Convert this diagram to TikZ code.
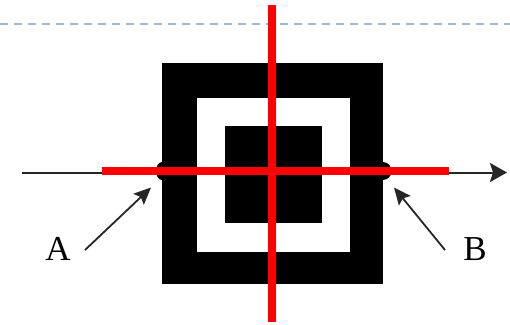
\documentclass[tikz,border=0pt]{standalone}
\usepackage{fontspec}
\setmainfont{Liberation Serif}
\usetikzlibrary{arrows.meta}
\definecolor{dashgray}{HTML}{A3B8CC}
\begin{document}
\begin{tikzpicture}[x=1pt,y=-1pt,
  redline/.style={draw=red,line width=7.5pt},
  pointer/.style={draw=black!85,line width=1.8pt,-{Stealth[length=17pt,width=15pt,inset=3pt]}},
  lbl/.style={font=\fontsize{35}{40}\selectfont,inner sep=0pt}]
\useasboundingbox (0,0) rectangle (510,324);
% dashed top line
\draw[dashgray,line width=2.5pt,dash pattern=on 8pt off 6pt] (0,24) -- (510,24);
% target squares
\fill[black] (161.7,62.7) rectangle (382.7,284.3);
\fill[white] (196.7,98.3) rectangle (350,251.7);
\fill[black] (225,126) rectangle (321.7,223.3);
% small bulges at the edges
\fill[black] (162,171) ellipse[x radius=6,y radius=9];
\fill[black] (382.7,171) ellipse[x radius=9,y radius=9];
% axis
\coordinate (axs) at (21.7,172.5);
\coordinate (axe) at (507,172.5);
\draw[black!85,line width=2pt,-{Stealth[length=17pt,width=19pt,inset=3pt]}] (axs) -- (axe);
% red cross
\coordinate (hl) at (101.7,171);
\coordinate (hr) at (449,171);
\coordinate (vt) at (272,5);
\coordinate (vb) at (272,322);
\draw[redline] (hl) -- (hr);
\draw[redline] (vt) -- (vb);
% labels and pointers
\node[lbl] (A) at (58,249) {A};
\node[lbl] (B) at (475,249) {B};
\coordinate (As) at (85,250);
\coordinate (At) at (151,187.5);
\coordinate (Bs) at (445,250);
\coordinate (Bt) at (394,187.5);
\draw[pointer] (As) -- (At);
\draw[pointer] (Bs) -- (Bt);
\end{tikzpicture}
\end{document}
